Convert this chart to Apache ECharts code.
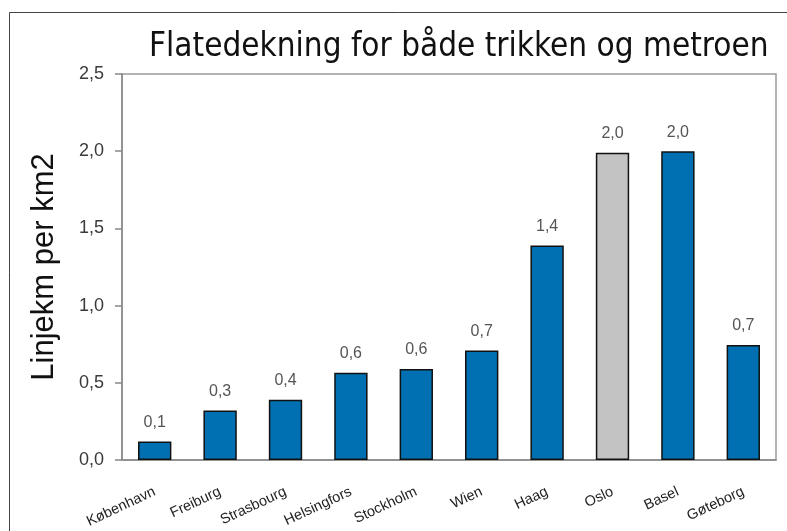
<!DOCTYPE html>
<html>
<head>
<meta charset="utf-8">
<script src="https://cdn.jsdelivr.net/npm/echarts@6/dist/echarts.min.js"></script>
<style>
  html, body { margin: 0; padding: 0; background: #fff; }
  #chart { width: 787px; height: 531px; }
</style>
</head>
<body>
<div id="chart"></div>
<script>
// Network coverage per city (line km per km2)
const cities = ['København', 'Freiburg', 'Strasbourg', 'Helsingfors', 'Stockholm', 'Wien', 'Haag', 'Oslo', 'Basel', 'Gøteborg'];
const coverage = [0.12, 0.32, 0.39, 0.565, 0.59, 0.71, 1.39, 1.99, 2.0, 0.745];
const highlightCity = 'Oslo';
const yTicks = [0, 0.5, 1.0, 1.5, 2.0, 2.5];

const fmt = v => v.toFixed(1).replace('.', ',');

const chart = echarts.init(document.getElementById('chart'), null, { renderer: 'canvas' });

chart.setOption({
  animation: false,
  backgroundColor: '#fff',
  title: {
    text: 'Flatedekning for både trikken og metroen',
    left: 144,
    top: 26,
    textStyle: {
      fontFamily: 'DejaVu Sans Condensed, DejaVu Sans',
      fontWeight: 'normal',
      fontSize: 33,
      color: '#111'
    }
  },
  graphic: [{
    type: 'rect',
    shape: { x: 9.5, y: 12.5, width: 800, height: 560 },
    style: { fill: 'none', stroke: '#444', lineWidth: 1 },
    silent: true,
    z: -1
  }],
  grid: {
    left: 122, right: 11, top: 74, bottom: 71,
    show: true,
    borderColor: '#9a9a9a',
    borderWidth: 1.5,
    backgroundColor: 'transparent'
  },
  xAxis: {
    type: 'category',
    data: cities,
    axisLine: { lineStyle: { color: '#888', width: 1.5 } },
    axisTick: { show: false },
    axisLabel: {
      rotate: 25,
      margin: 31,
      fontFamily: 'Liberation Sans, Arial, sans-serif',
      fontSize: 14.5,
      color: '#222',
      interval: 0
    }
  },
  yAxis: {
    type: 'value',
    min: 0,
    max: 2.5,
    interval: 0.5,
    name: 'Linjekm per km2',
    nameLocation: 'middle',
    nameGap: 62,
    nameTextStyle: {
      fontFamily: 'Liberation Sans, Arial, sans-serif',
      fontSize: 31,
      color: '#111'
    },
    axisLine: { show: true, lineStyle: { color: '#888', width: 1.5 } },
    axisTick: { show: true, length: 7, lineStyle: { color: '#888', width: 1.5 } },
    splitLine: { show: false },
    axisLabel: {
      margin: 18,
      fontFamily: 'Liberation Sans, Arial, sans-serif',
      fontSize: 18,
      color: '#3a3a3a',
      formatter: v => yTicks.includes(v) ? fmt(v) : ''
    }
  },
  series: [{
    type: 'bar',
    barWidth: '51%',
    data: cities.map((c, i) => ({
      value: coverage[i],
      itemStyle: { color: c === highlightCity ? '#c2c3c2' : '#0070b2' }
    })),
    itemStyle: { borderColor: '#111', borderWidth: 1.5 },
    label: {
      show: true,
      position: 'top',
      distance: 11,
      fontFamily: 'Liberation Sans, Arial, sans-serif',
      fontSize: 16,
      color: '#555',
      formatter: p => fmt(p.value)
    }
  }]
});
</script>
</body>
</html>
